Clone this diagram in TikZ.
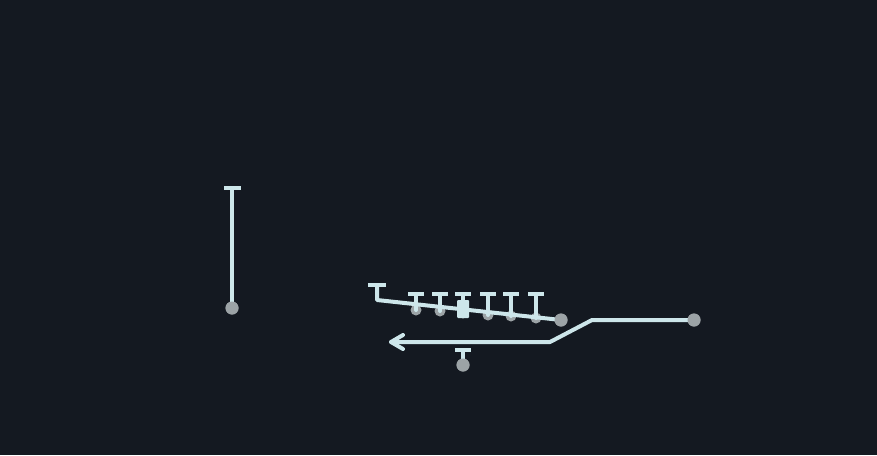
\documentclass[tikz,border=0pt]{standalone}
\definecolor{bgc}{HTML}{141921}
\definecolor{routec}{HTML}{CDE6EA}
\definecolor{dotc}{HTML}{9CA3A6}
\begin{document}
\begin{tikzpicture}[x=1pt,y=-1pt,
  route/.style={draw=routec,line width=4pt,line cap=round,line join=round},
  capline/.style={draw=routec,line width=4.6pt},
  player/.style={circle,fill=dotc,inner sep=0pt,minimum size=13pt},
  post/.style={circle,fill=dotc,inner sep=0pt,minimum size=11pt}]
\fill[bgc] (0,0) rectangle (877,455);
\useasboundingbox (0,0) rectangle (877,455);
% vertical player
\node[player] (p1) at (232,308) {};
\coordinate (c1) at (232,188);
\draw[route] (p1.center) -- (c1);
\draw[capline] (224,188) -- (241,188);
% slanted line with posts
\coordinate (s0) at (377,286);
\coordinate (s1) at (377,300);
\node[player] (p2) at (561,320) {};
\draw[capline] (368,285) -- (386,285);
\foreach \i/\x/\y in {a/416/310,b/440/311,c/463/313,d/488/315,e/511/316,f/536/318}{
  \coordinate (t\i) at (\x,294);
  \node[post] (q\i) at (\x,\y) {};
  \draw[route] (q\i.center) -- (t\i);
  \draw[capline] (\x-8,294) -- (\x+8,294);
}
\draw[route] (s0) -- (s1) -- (p2.center);
\fill[routec,rounded corners=1pt] (457,300) rectangle (469,318);
% lower route with arrow
\node[player] (p3) at (694,320) {};
\coordinate (r1) at (592,320);
\coordinate (r2) at (550,342);
\coordinate (r3) at (391,342);
\draw[route] (p3.center) -- (r1) -- (r2) -- (r3);
\draw[route] (403,335) -- (r3) -- (403,349);
% player under route
\node[player] (p4) at (463,365) {};
\coordinate (c4) at (463,350);
\draw[route] (p4.center) -- (c4);
\draw[capline] (455,350) -- (471,350);
\node[player] at (232,308) {};
\node[player] at (561,320) {};
\node[player] at (694,320) {};
\node[player] at (463,365) {};
\end{tikzpicture}
\end{document}
